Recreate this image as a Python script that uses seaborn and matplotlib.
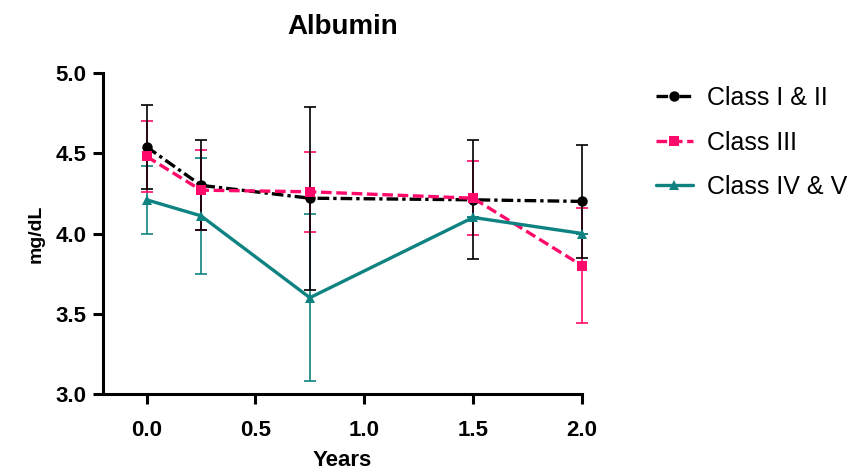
import numpy as np
import pandas as pd
import matplotlib
matplotlib.use("Agg")
import matplotlib.pyplot as plt
import seaborn as sns

years = [0.0, 0.25, 0.75, 1.5, 2.0]
groups = ["Class I & II", "Class III", "Class IV & V"]
mean_12 = [4.54, 4.30, 4.22, 4.21, 4.20]
err_12 = [0.26, 0.28, 0.57, 0.37, 0.35]
mean_3 = [4.48, 4.27, 4.26, 4.22, 3.80]
err_3 = [0.22, 0.25, 0.25, 0.23, 0.36]
mean_45 = [4.21, 4.11, 3.60, 4.10, 4.00]
err_45 = [0.21, 0.36, 0.52, 0.0, 0.0]

colors = {"Class I & II": "#000000", "Class III": "#FF0A6A", "Class IV & V": "#0F8282"}
dashes = {"Class I & II": (3.5, 1.2, 1, 1.2), "Class III": (3.2, 1.4), "Class IV & V": ""}
markers = {"Class I & II": "o", "Class III": "s", "Class IV & V": "^"}

rows = []
for g, m, e in zip(groups, [mean_12, mean_3, mean_45], [err_12, err_3, err_45]):
    for x, mv, ev in zip(years, m, e):
        rows.append({"Years": x, "value": mv, "err": ev, "group": g})
df = pd.DataFrame(rows)

sns.set_style("ticks")
plt.rcParams['font.family'] = ['Liberation Sans', 'DejaVu Sans']
plt.rcParams['text.color'] = 'black'
plt.rcParams['axes.labelcolor'] = 'black'
plt.rcParams['xtick.color'] = 'black'
plt.rcParams['ytick.color'] = 'black'

fig = plt.figure(figsize=(8.53, 4.76), dpi=100)
ax = fig.add_axes([0.1208, 0.1723, 0.5615, 0.6743])

order_draw = ["Class IV & V", "Class III", "Class I & II"]
for g in order_draw:
    d = df[df.group == g]
    eb = ax.errorbar(d.Years, d.value, yerr=d.err, fmt="none", ecolor=colors[g],
                     elinewidth=1.2, capsize=4.5, capthick=1.2, zorder=2)
    for art in list(eb.lines[1]) + list(eb.lines[2]):
        art.set_clip_on(False)

sns.lineplot(data=df, x="Years", y="value", hue="group", style="group",
             hue_order=groups, style_order=groups,
             palette=colors, dashes=dashes, markers=markers,
             markersize=7.5, markeredgewidth=0, linewidth=2.4, ax=ax, zorder=3)
for ln in ax.get_lines():
    ln.set_clip_on(False)
for coll in ax.collections:
    coll.set_clip_on(False)

ax.set_xlim(-0.2, 2.0)
ax.set_ylim(3.0, 5.0)
ax.set_xticks([0.0, 0.5, 1.0, 1.5, 2.0])
ax.set_xticklabels(["0.0", "0.5", "1.0", "1.5", "2.0"])
ax.set_yticks([3.0, 3.5, 4.0, 4.5, 5.0])
ax.set_yticklabels(["3.0", "3.5", "4.0", "4.5", "5.0"])
for lab in ax.get_xticklabels() + ax.get_yticklabels():
    lab.set_fontweight("bold")
    lab.set_fontsize(16)
ax.tick_params(axis="both", width=2.2, length=7, color="black")
ax.tick_params(axis="x", pad=12)
ax.tick_params(axis="y", pad=5)
for s in ["left", "bottom"]:
    ax.spines[s].set_linewidth(2.2)
    ax.spines[s].set_color("black")
sns.despine(ax=ax)

ax.set_xlabel("Years", fontsize=16, fontweight="bold", labelpad=6)
ax.set_ylabel("mg/dL", fontsize=14, fontweight="bold", labelpad=8)
ax.set_title("Albumin", fontsize=20, fontweight="bold", pad=28)

handles, labels = ax.get_legend_handles_labels()
ax.legend_.remove()
fig.legend(handles, labels, loc="upper left", bbox_to_anchor=(0.757, 0.84),
           frameon=False, fontsize=18, handlelength=1.5, labelspacing=0.82,
           handletextpad=0.55, borderaxespad=0)

fig.savefig("out.png", dpi=100)
